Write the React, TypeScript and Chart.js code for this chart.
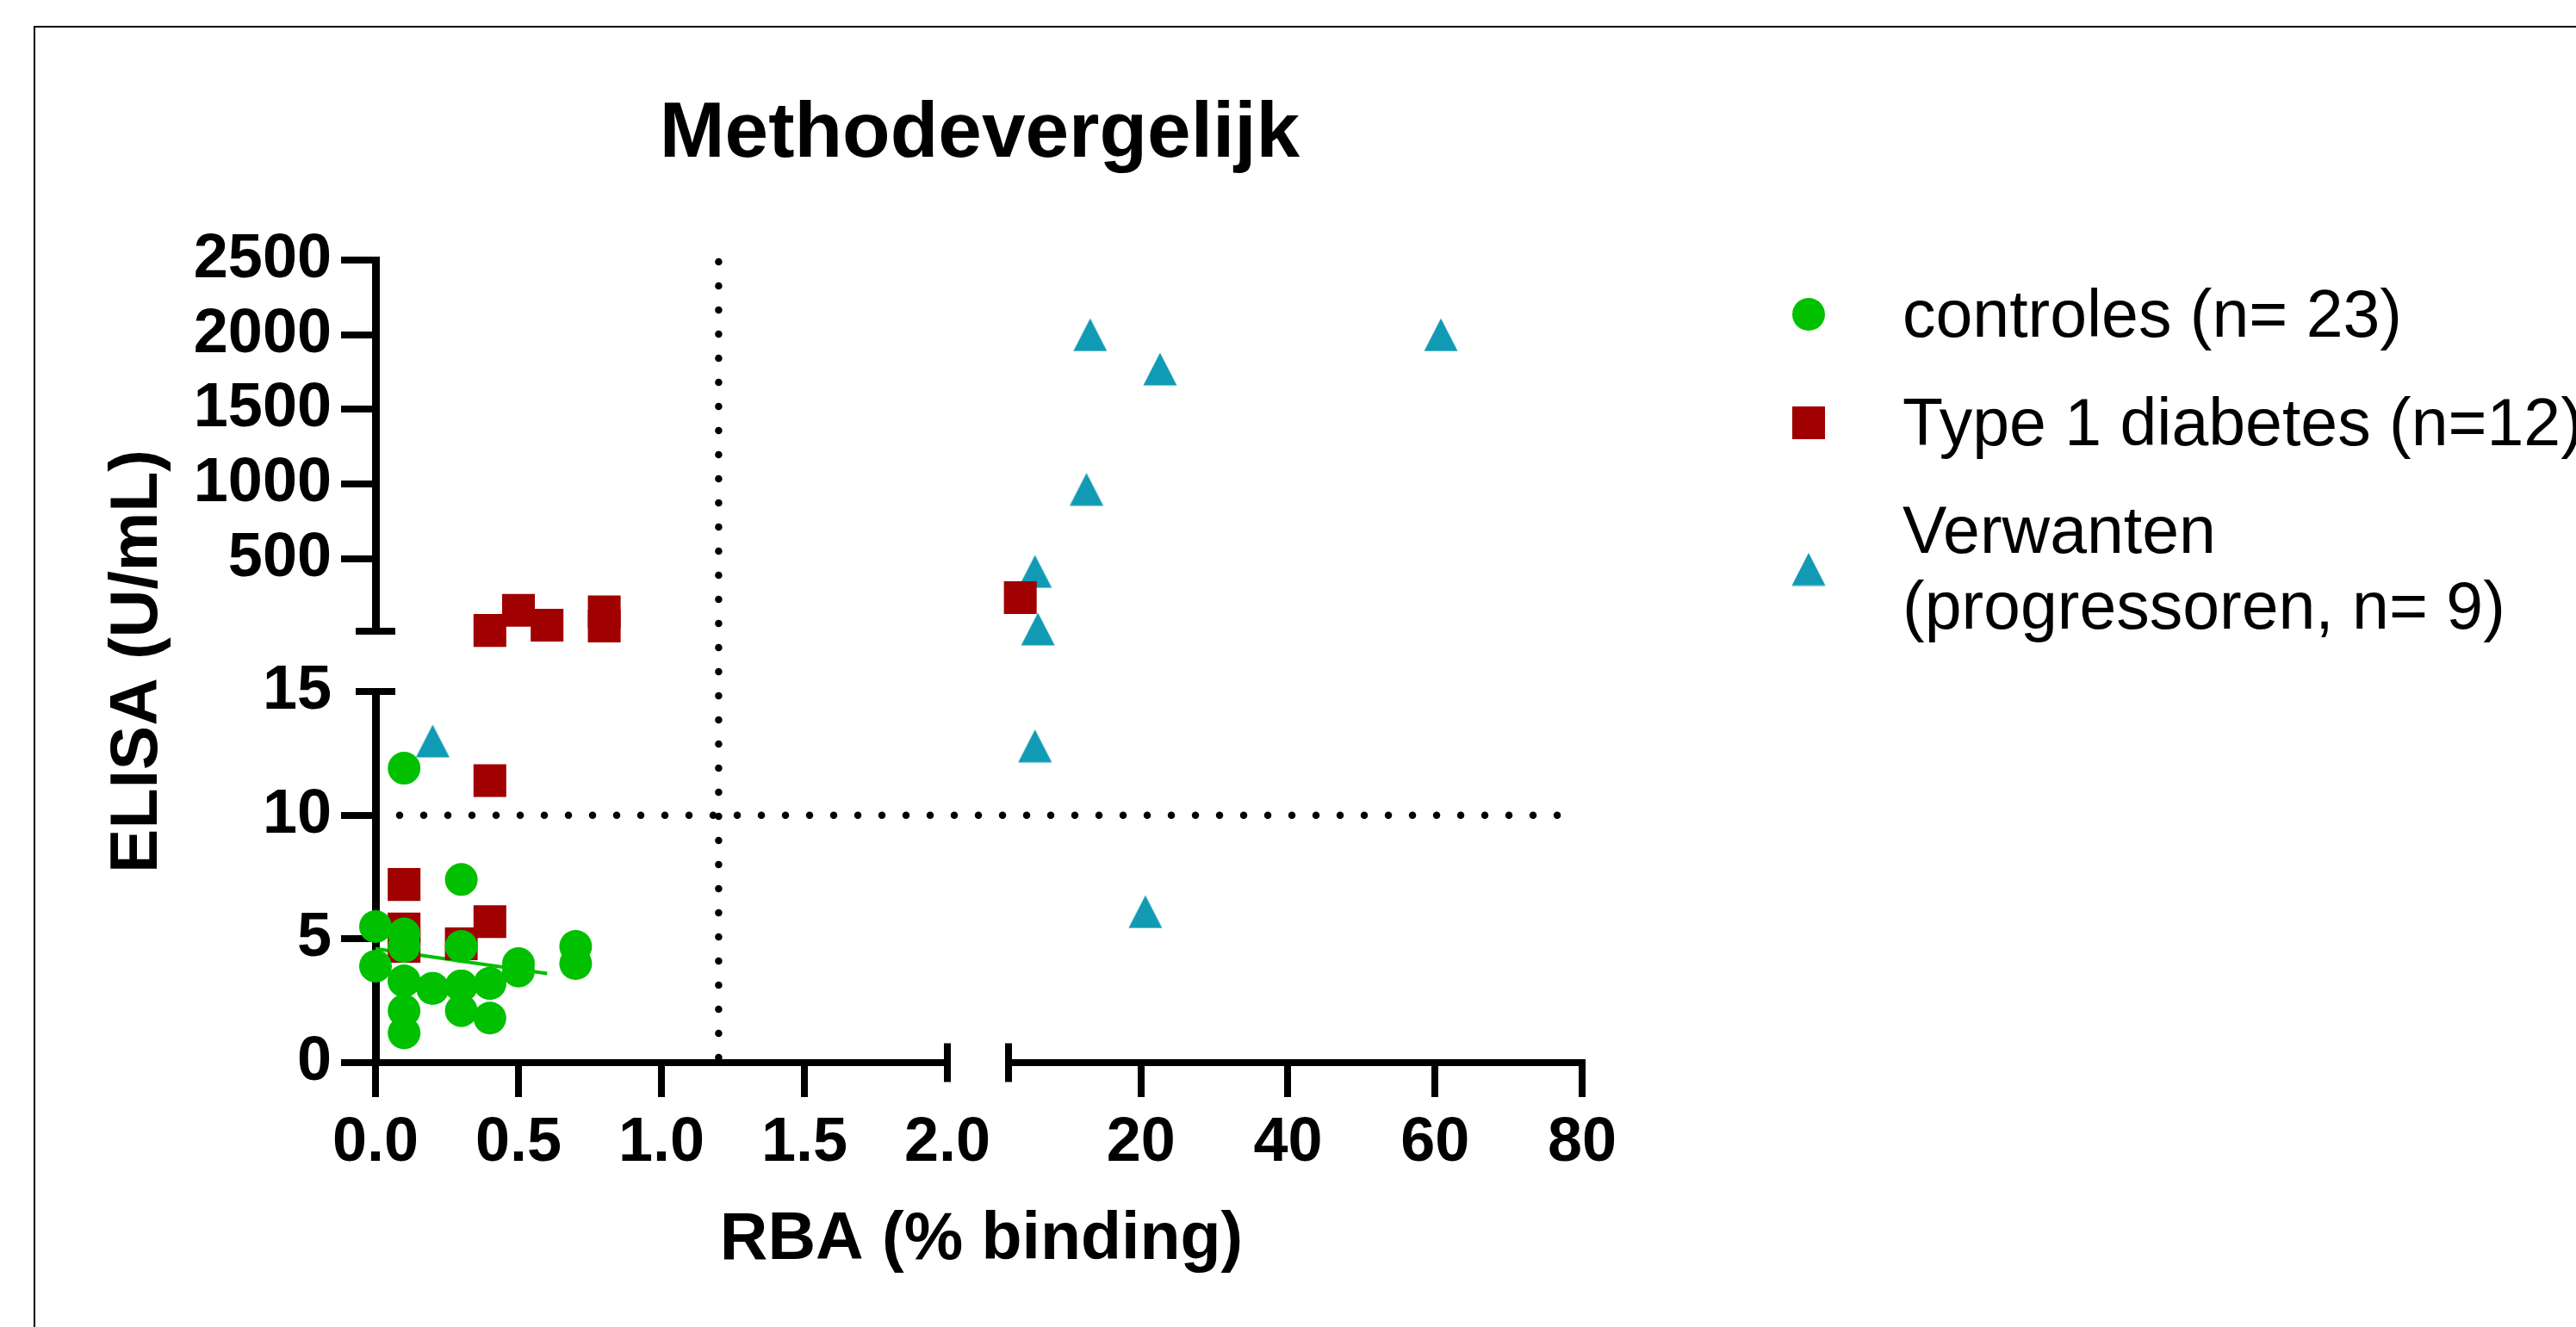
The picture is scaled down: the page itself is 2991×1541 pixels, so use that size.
import React, { useEffect, useRef } from 'react';
import { Chart, registerables } from 'chart.js';

Chart.register(...registerables);

const W = 2991;
const H = 1541;
const FONT = "'Liberation Sans', Arial, Helvetica, sans-serif";

const chartTitle = 'Methodevergelijk';
const xTitle = 'RBA (% binding)';
const yTitle = 'ELISA (U/mL)';

const seriesNames = [['controles (n= 23)'], ['Type 1 diabetes (n=12)'], ['Verwanten', '(progressoren, n= 9)']];
const seriesColors = ['#00C000', '#A00000', '#119AB4'];

// controles (n=23)
const controlX = [0.0, 0.0, 0.1, 0.1, 0.1, 0.1, 0.1, 0.1, 0.1, 0.2, 0.2, 0.3, 0.3, 0.3, 0.3, 0.3, 0.4, 0.4, 0.4, 0.5, 0.5, 0.7, 0.7];
const controlY = [5.5, 3.9, 11.9, 5.2, 4.7, 3.3, 3.3, 2.1, 1.2, 3.0, 3.0, 7.4, 4.7, 3.1, 3.1, 2.1, 3.2, 3.2, 1.8, 4.0, 3.7, 4.7, 4.0];

// Type 1 diabetes (n=12)
const t1dX = [0.1, 0.1, 0.1, 0.3, 0.4, 0.4, 0.4, 0.5, 0.6, 0.8, 0.8, 3.6];
const t1dY = [7.2, 5.4, 4.7, 4.8, 5.7, 11.4, 20, 155, 55, 145, 50, 240];

// Verwanten (progressoren, n=9)
const relX = [0.2, 5.6, 20.6, 6.0, 5.6, 12.6, 13.1, 22.6, 60.8];
const relY = [13.0, 12.8, 6.1, 30, 415, 965, 2000, 1770, 2000];

// regression line of controls
const regX = [0, 0.6];
const regY = [4.6, 3.6];

// axis segments and ticks
const yLowRange = [0, 15];
const yHighRange = [15, 2500];
const xLeftRange = [0, 2];
const xRightRange = [2, 80];
const yLowTicks = [0, 5, 10, 15];
const yHighTicks = [500, 1000, 1500, 2000, 2500];
const xLeftTicks = [0, 0.5, 1, 1.5, 2];
const xRightTicks = [20, 40, 60, 80];

// cut-off lines
const refX = 1.2;
const refY = 10;
const refYEnd = 77;

function split(xs: number[], ys: number[]) {
  const groups: Record<string, { x: number; y: number }[]> = {};
  xs.forEach((x, i) => {
    const y = ys[i];
    const xa = x <= xLeftRange[1] ? 'xLeft' : 'xRight';
    const ya = y <= yLowRange[1] ? 'yLow' : 'yHigh';
    const k = xa + '|' + ya;
    (groups[k] = groups[k] || []).push({ x, y });
  });
  return Object.keys(groups).map((k) => {
    const [xAxisID, yAxisID] = k.split('|');
    return { xAxisID, yAxisID, data: groups[k] };
  });
}

function makeTriangle(color: string) {
  const c = document.createElement('canvas');
  c.width = 40;
  c.height = 39;
  const g = c.getContext('2d')!;
  g.fillStyle = color;
  g.beginPath();
  g.moveTo(20, 0.5);
  g.lineTo(39.5, 38.5);
  g.lineTo(0.5, 38.5);
  g.closePath();
  g.fill();
  return c;
}

export default function App() {
  const ref = useRef<HTMLCanvasElement>(null);

  useEffect(() => {
    const canvas = ref.current!;
    const tri = makeTriangle(seriesColors[2]);

    const tickFont = { family: FONT, size: 72, weight: 'bold' as const };
    const grid = (hideVal: number | null) => ({
      display: true,
      drawOnChartArea: false,
      drawTicks: true,
      tickLength: 40,
      lineWidth: 8,
      tickWidth: 8,
      tickColor: (c: any) => (hideVal !== null && c.tick && c.tick.value === hideVal ? 'rgba(0,0,0,0)' : '#000'),
    });
    const setTicks = (vals: number[]) => (s: any) => {
      s.ticks = vals.map((v) => ({ value: v }));
    };

    const datasets: any[] = [];
    split(controlX, controlY).forEach((d) =>
      datasets.push({
        ...d,
        label: seriesNames[0][0],
        order: 1,
        pointStyle: 'circle',
        pointRadius: 19,
        pointBackgroundColor: seriesColors[0],
        pointBorderWidth: 0,
        showLine: false,
        clip: false,
      })
    );
    split(t1dX, t1dY).forEach((d) =>
      datasets.push({
        ...d,
        label: seriesNames[1][0],
        order: 2,
        pointStyle: 'rect',
        pointRadius: 26.9,
        pointBackgroundColor: seriesColors[1],
        pointBorderWidth: 0,
        showLine: false,
        clip: false,
      })
    );
    split(relX, relY).forEach((d) =>
      datasets.push({
        ...d,
        label: seriesNames[2].join(' '),
        order: 3,
        pointStyle: tri,
        pointRadius: 20,
        pointBackgroundColor: seriesColors[2],
        pointBorderWidth: 0,
        showLine: false,
        clip: false,
      })
    );
    datasets.push({
      label: 'regressie',
      xAxisID: 'xLeft',
      yAxisID: 'yLow',
      order: 4,
      data: regX.map((x, i) => ({ x, y: regY[i] })),
      showLine: true,
      borderColor: seriesColors[0],
      borderWidth: 4,
      pointRadius: 0,
      clip: false,
    });

    const decor = {
      id: 'decor',
      beforeDraw(chart: any) {
        const { ctx, chartArea } = chart;
        ctx.save();
        ctx.fillStyle = '#fff';
        ctx.fillRect(0, 0, chart.width, chart.height);
        ctx.strokeStyle = '#000';
        ctx.lineWidth = 2;
        ctx.beginPath();
        ctx.moveTo(40, chart.height + 10);
        ctx.lineTo(40, 31);
        ctx.lineTo(chart.width + 10, 31);
        ctx.stroke();

        const cx = (chartArea.left + chartArea.right) / 2;
        ctx.fillStyle = '#000';
        ctx.textAlign = 'center';
        ctx.textBaseline = 'alphabetic';
        ctx.font = `bold 91px ${FONT}`;
        ctx.fillText(chartTitle, cx + 1, 182);
        ctx.font = `bold 77px ${FONT}`;
        ctx.fillText(xTitle, cx + 3, 1462);
        ctx.translate(182, (chartArea.top + chartArea.bottom) / 2);
        ctx.rotate(-Math.PI / 2);
        ctx.fillText(yTitle, 0, 0);
        ctx.restore();
      },
      beforeDatasetsDraw(chart: any) {
        const { ctx, chartArea, scales } = chart;
        const xl = scales.xLeft, xr = scales.xRight, yl = scales.yLow, yh = scales.yHigh;
        ctx.save();
        // dotted cut-off lines
        ctx.strokeStyle = '#000';
        ctx.lineWidth = 8.5;
        ctx.lineCap = 'round';
        ctx.setLineDash([0.001, 28]);
        const vx = xl.getPixelForValue(refX);
        ctx.beginPath();
        ctx.moveTo(vx, yh.getPixelForValue(yHighRange[1]) + 2);
        ctx.lineTo(vx, yl.getPixelForValue(yLowRange[0]));
        ctx.stroke();
        const hy = yl.getPixelForValue(refY);
        ctx.beginPath();
        ctx.moveTo(xl.getPixelForValue(xLeftRange[0]), hy);
        ctx.lineTo(xr.getPixelForValue(refYEnd), hy);
        ctx.stroke();
        // break caps
        ctx.setLineDash([]);
        ctx.lineCap = 'butt';
        ctx.lineWidth = 8;
        const ax = chartArea.left;
        [yh.getPixelForValue(yHighRange[0]), yl.getPixelForValue(yLowRange[1])].forEach((py: number) => {
          ctx.beginPath();
          ctx.moveTo(ax - 23, py);
          ctx.lineTo(ax + 23, py);
          ctx.stroke();
        });
        const ay = chartArea.bottom;
        [xl.getPixelForValue(xLeftRange[1]), xr.getPixelForValue(xRightRange[0])].forEach((px: number) => {
          ctx.beginPath();
          ctx.moveTo(px, ay - 22.5);
          ctx.lineTo(px, ay + 22.5);
          ctx.stroke();
        });
        ctx.restore();
      },
      afterDraw(chart: any) {
        const { ctx } = chart;
        ctx.save();
        const mx = 2100;
        const tx = 2209;
        const markerY = [365, 491, 661];
        const baselines = [[391], [517], [642, 730]];
        // circle
        ctx.fillStyle = seriesColors[0];
        ctx.beginPath();
        ctx.arc(mx, markerY[0], 19, 0, Math.PI * 2);
        ctx.fill();
        // square
        ctx.fillStyle = seriesColors[1];
        ctx.fillRect(mx - 19, markerY[1] - 19, 38, 38);
        // triangle
        ctx.drawImage(tri, mx - tri.width / 2, markerY[2] - tri.height / 2);
        ctx.fillStyle = '#000';
        ctx.font = `77px ${FONT}`;
        ctx.textAlign = 'left';
        ctx.textBaseline = 'alphabetic';
        seriesNames.forEach((lines, i) => {
          lines.forEach((t, j) => ctx.fillText(t, tx, baselines[i][j]));
        });
        ctx.restore();
      },
    };

    const hiddenAxis = (pos: string, stack: string, weight: number, stackWeight: number, fit: (s: any) => void) => ({
      type: 'linear',
      position: pos,
      stack,
      weight,
      stackWeight,
      min: 0,
      max: 1,
      display: true,
      ticks: { display: false },
      grid: { display: false },
      border: { display: false },
      afterFit: fit,
    });
    const fitY = (s: any) => {
      s.width = 436;
    };
    const fitX = (s: any) => {
      s.height = 307;
    };
    const plain = (v: any) => String(v);

    const chart = new Chart(canvas, {
      type: 'scatter',
      data: { datasets },
      plugins: [decor],
      options: {
        responsive: false,
        animation: false,
        events: [],
        layout: { padding: { left: 0, top: 302, right: 1154, bottom: 0 } },
        plugins: {
          legend: { display: false },
          title: { display: false },
          tooltip: { enabled: false },
        },
        scales: {
          yHigh: {
            type: 'linear',
            position: 'left',
            stack: 'y',
            weight: 2,
            stackWeight: 431,
            min: yHighRange[0],
            max: yHighRange[1],
            afterBuildTicks: setTicks(yHighTicks),
            afterFit: fitY,
            ticks: { font: tickFont, color: '#000', padding: 11, autoSkip: false, callback: plain },
            grid: grid(null),
            border: { display: true, color: '#000', width: 9 },
          },
          yGap: hiddenAxis('left', 'y', 1, 70, fitY),
          yLow: {
            type: 'linear',
            position: 'left',
            stack: 'y',
            weight: 0,
            stackWeight: 431,
            min: yLowRange[0],
            max: yLowRange[1],
            afterBuildTicks: setTicks(yLowTicks),
            afterFit: fitY,
            ticks: { font: tickFont, color: '#000', padding: 11, autoSkip: false, callback: plain },
            grid: grid(yLowRange[1]),
            border: { display: true, color: '#000', width: 9 },
          },
          xLeft: {
            type: 'linear',
            position: 'bottom',
            stack: 'x',
            weight: 0,
            stackWeight: 664,
            min: xLeftRange[0],
            max: xLeftRange[1],
            afterBuildTicks: setTicks(xLeftTicks),
            afterFit: fitX,
            ticks: {
              font: tickFont,
              color: '#000',
              padding: 11,
              autoSkip: false,
              maxRotation: 0,
              callback: (v: any) => Number(v).toFixed(1),
            },
            grid: grid(xLeftRange[1]),
            border: { display: true, color: '#000', width: 8 },
          },
          xGap: hiddenAxis('bottom', 'x', 1, 71, fitX),
          xRight: {
            type: 'linear',
            position: 'bottom',
            stack: 'x',
            weight: 2,
            stackWeight: 666,
            min: xRightRange[0],
            max: xRightRange[1],
            afterBuildTicks: setTicks(xRightTicks),
            afterFit: fitX,
            ticks: {
              font: tickFont,
              color: '#000',
              padding: 11,
              autoSkip: false,
              maxRotation: 0,
              callback: plain,
            },
            grid: grid(null),
            border: { display: true, color: '#000', width: 8 },
          },
        } as any,
      },
    } as any);

    return () => chart.destroy();
  }, []);

  return (
    <div style={{ position: 'fixed', left: 0, top: 0, width: W, height: H, background: '#fff' }}>
      <canvas ref={ref} width={W} height={H} style={{ display: 'block', width: W, height: H }} />
    </div>
  );
}
